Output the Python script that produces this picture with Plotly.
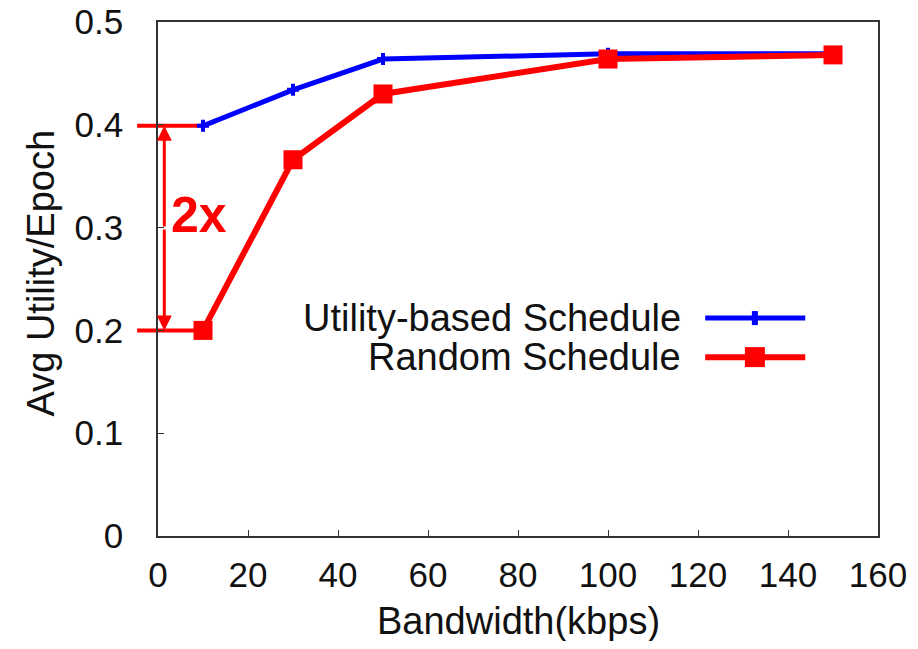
import plotly.graph_objects as go

# ---- data ----
bandwidth = [10, 30, 50, 100, 150]
utility_based = [0.399, 0.434, 0.464, 0.469, 0.469]
random_sched = [0.200, 0.366, 0.430, 0.464, 0.468]
series_names = ["Utility-based Schedule", "Random Schedule"]
x_ticks = [0, 20, 40, 60, 80, 100, 120, 140, 160]
y_ticks = [0, 0.1, 0.2, 0.3, 0.4, 0.5]
y_tick_text = ["0", "0.1", "0.2", "0.3", "0.4", "0.5"]
x_title = "Bandwidth(kbps)"
y_title = "Avg Utility/Epoch"
ratio_label = "2x"

X_RANGE = [0, 160]
Y_RANGE = [0, 0.5]

BLUE = "#0000FF"
RED = "#FF0000"
FONT = "Liberation Sans, Arial, Helvetica, sans-serif"
TICK_FS = 35
TEXT_FS = 38
TXT = "#111111"

fig = go.Figure()
fig.add_trace(go.Scatter(
    x=bandwidth, y=utility_based, mode="lines+markers", name=series_names[0],
    line=dict(color=BLUE, width=5),
    marker=dict(symbol="cross", size=10, color=BLUE),
    showlegend=False, cliponaxis=False))
fig.add_trace(go.Scatter(
    x=bandwidth, y=random_sched, mode="lines+markers", name=series_names[1],
    line=dict(color=RED, width=6),
    marker=dict(symbol="square", size=19, color=RED),
    showlegend=False, cliponaxis=False))

span = X_RANGE[1] - X_RANGE[0]
# red reference lines at the two compared values
for yv, xv in [(utility_based[0], bandwidth[0]), (random_sched[0], bandwidth[0])]:
    fig.add_shape(type="line", xref="paper", yref="y",
                  x0=-0.029, x1=(xv - X_RANGE[0]) / span, y0=yv, y1=yv,
                  line=dict(color=RED, width=4), layer="below")

# double-headed arrow
x_arrow = 1.4
mid = (utility_based[0] + random_sched[0]) / 2
for end in [utility_based[0], random_sched[0]]:
    fig.add_annotation(x=x_arrow, y=end, ax=x_arrow, ay=mid, xref="x", yref="y",
                       axref="x", ayref="y", text="", showarrow=True,
                       arrowhead=2, arrowsize=1.0, arrowwidth=3, arrowcolor=RED,
                       standoff=0, startstandoff=0)
fig.add_annotation(x=2.4, y=0.312, xref="x", yref="y", text="<b>%s</b>" % ratio_label,
                   showarrow=False, xanchor="left", yanchor="middle",
                   font=dict(family=FONT, size=50, color=RED))

# manual legend (text left, sample right)
leg_text_x = 0.729
leg_y = [0.424, 0.348]
for name, yy in [(series_names[0], leg_y[0]), (series_names[1], leg_y[1])]:
    fig.add_annotation(x=leg_text_x, y=yy, xref="paper", yref="paper", text=name,
                       showarrow=False, xanchor="right", yanchor="middle",
                       font=dict(family=FONT, size=TEXT_FS, color=TXT))
fig.add_shape(type="line", xref="paper", yref="paper", x0=0.760, x1=0.899,
              y0=leg_y[0], y1=leg_y[0], line=dict(color=BLUE, width=5))
fig.add_shape(type="rect", xref="paper", yref="paper", xsizemode="pixel", ysizemode="pixel",
              xanchor=0.829, yanchor=leg_y[0], x0=-3, x1=3, y0=-7, y1=7,
              fillcolor=BLUE, line=dict(width=0))
fig.add_shape(type="line", xref="paper", yref="paper", x0=0.760, x1=0.899,
              y0=leg_y[1], y1=leg_y[1], line=dict(color=RED, width=6))
fig.add_shape(type="rect", xref="paper", yref="paper", xsizemode="pixel", ysizemode="pixel",
              xanchor=0.829, yanchor=leg_y[1], x0=-10, x1=10, y0=-10, y1=10,
              fillcolor=RED, line=dict(width=0))

# axis titles
fig.add_annotation(x=0.5, y=-0.165, xref="paper", yref="paper", text=x_title,
                   showarrow=False, xanchor="center", yanchor="middle",
                   font=dict(family=FONT, size=TEXT_FS, color=TXT))
fig.add_annotation(x=-0.163, y=0.512, xref="paper", yref="paper", text=y_title,
                   showarrow=False, xanchor="center", yanchor="middle", textangle=-90,
                   font=dict(family=FONT, size=TEXT_FS, color=TXT))

axis_common = dict(showgrid=False, zeroline=False, showline=True, mirror=True,
                   linecolor="#333", linewidth=1.5, ticks="inside", ticklen=6,
                   tickcolor="#333", tickwidth=1.2, automargin=False,
                   ticklabeloverflow="allow",
                   tickfont=dict(family=FONT, size=TICK_FS, color=TXT))
fig.update_xaxes(range=X_RANGE, tickvals=x_ticks, ticktext=[str(v) for v in x_ticks],
                 ticklabelstandoff=7, **axis_common)
fig.update_yaxes(range=Y_RANGE, tickvals=y_ticks, ticktext=y_tick_text,
                 ticklabelstandoff=26, **axis_common)

# page body has an 8px default margin: size the figure so the plot lands where the reference has it
fig.update_layout(width=902, height=633, margin=dict(l=150, r=32, t=14, b=105),
                  plot_bgcolor="white", paper_bgcolor="white",
                  font=dict(family=FONT, size=TEXT_FS, color=TXT))
fig.write_html("out.html")
